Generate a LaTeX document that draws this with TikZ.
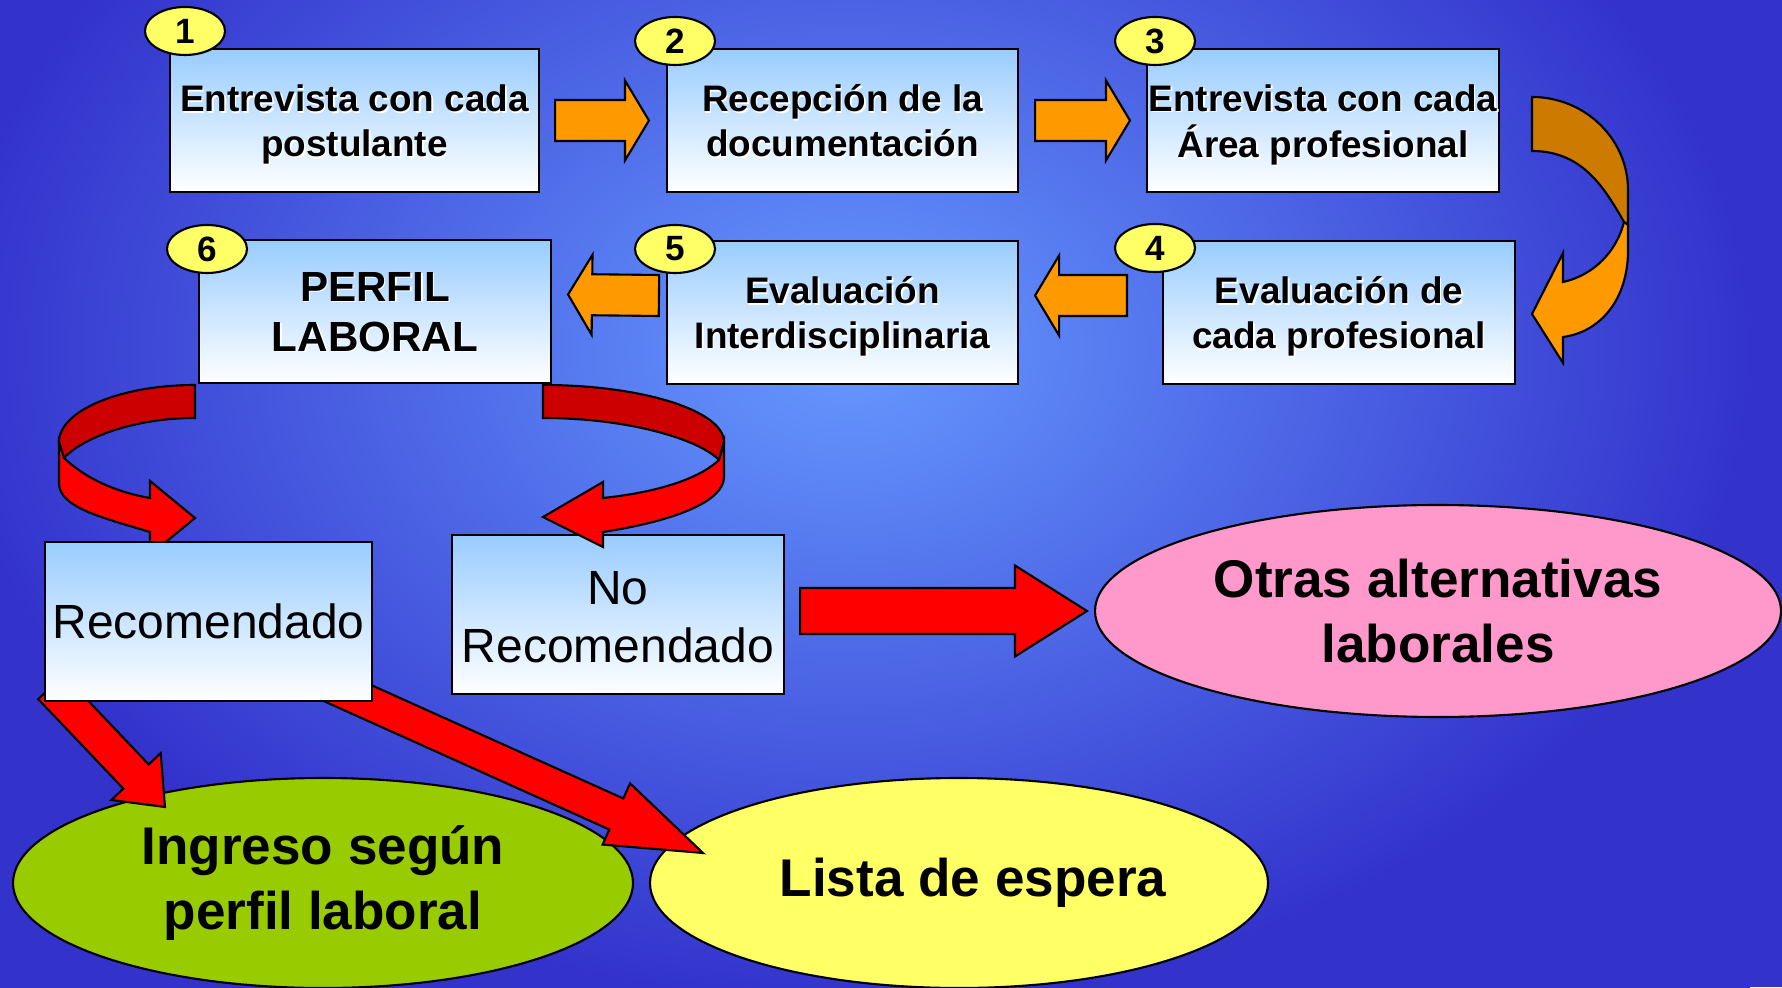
\documentclass[tikz,border=0pt]{standalone}
\usepackage{fontspec}
\setmainfont{Liberation Sans}
\usetikzlibrary{shapes.geometric,calc}

\definecolor{bglight}{HTML}{6699FF}
\definecolor{bgdark}{HTML}{3333CC}
\definecolor{boxblue}{HTML}{99CCFF}
\definecolor{arroworange}{HTML}{FF9900}
\definecolor{arrowbrown}{HTML}{CC7A00}
\definecolor{arrowred}{HTML}{FF0000}
\definecolor{arrowdarkred}{HTML}{CC0000}
\definecolor{badgeyellow}{HTML}{FFFF66}
\definecolor{otraspink}{HTML}{FF99CC}
\definecolor{ingresogreen}{HTML}{99CC00}

\pgfdeclarelayer{back}
\pgfdeclarelayer{mid}
\pgfsetlayers{back,mid,main}

% bold text with a thin white shadow, set a little low
\newcommand\embossed[1]{\raisebox{-1.6pt}[\height][\depth]{%
  \rlap{\kern0.45pt\raisebox{-0.45pt}{\color{white}\begin{tabular}{@{}c@{}}#1\end{tabular}}}%
  \begin{tabular}{@{}c@{}}#1\end{tabular}}}

% block arrow: half shaft, half head, head length
\tikzset{blockarrow/.style n args={3}{to path={
  let \p1=(\tikztostart), \p2=(\tikztotarget),
      \n1={atan2(\y2-\y1,\x2-\x1)}, \n2={veclen(\x2-\x1,\y2-\y1)} in
  ($(\tikztostart)+(\n1+90:#1)$) -- ++(\n1:\n2-#3) -- ++(\n1+90:#2-#1)
  -- (\tikztotarget)
  -- ($(\tikztotarget)+(\n1+180:#3)+(\n1-90:#2)$) -- ++(\n1+90:#2-#1)
  -- ++(\n1+180:\n2-#3) -- cycle}}}

\begin{document}
\begin{tikzpicture}[
  stage/.style={rectangle, draw, line width=0.6pt, top color=boxblue, bottom color=white,
    minimum width=3.52cm, minimum height=1.43cm, inner sep=0pt,
    font=\bfseries\fontsize{10.5}{12.8}\selectfont},
  verdict/.style={rectangle, draw, line width=0.6pt, top color=boxblue, bottom color=white,
    minimum height=1.59cm, inner sep=0pt, align=center,
    font=\fontsize{13.65}{16.4}\selectfont},
  outcome/.style={ellipse, draw, line width=0.6pt, inner sep=0pt, align=center,
    font=\bfseries\fontsize{15.1}{18.5}\selectfont},
  badge/.style={ellipse, draw, line width=0.6pt, fill=badgeyellow, inner sep=0pt,
    minimum width=0.80cm, minimum height=0.48cm, font=\bfseries\fontsize{10}{12}\selectfont},
  flow/.style={draw, line width=0.6pt, fill=arroworange, blockarrow={0.205cm}{0.40cm}{0.24cm}},
  push/.style={draw, line width=0.6pt, fill=arrowred},
  band/.style={draw, line width=0.6pt}]

\useasboundingbox (0,0) rectangle (17.82,9.87);

\begin{pgfonlayer}{back}
\fill[bgdark] (0,0) rectangle (17.82,9.87);
\begin{scope}
  \clip (0,0) rectangle (17.82,9.87);
  \shade[inner color=bglight, outer color=bgdark] (-0.5,-0.13) rectangle (17.5,12.87);
\end{scope}
\node[outcome, fill=otraspink, minimum width=6.86cm, minimum height=2.12cm]
      (otras) at (14.38,3.76) {Otras alternativas\\laborales};
\node[outcome, fill=ingresogreen, minimum width=6.20cm, minimum height=2.10cm]
      (ingreso) at (3.23,1.04) {Ingreso según\\perfil laboral};
\node[outcome, fill=badgeyellow, minimum width=6.18cm, minimum height=2.10cm]
      (lista) at (9.59,1.04) {\hspace*{0.28cm}Lista de espera};
\end{pgfonlayer}

% the six stages
\node[stage, minimum width=3.69cm] (b1) at (3.545,8.665) {\embossed{Entrevista con cada\\postulante}};
\node[stage, minimum width=3.51cm] (b2) at (8.425,8.665) {\embossed{Recepción de la\\documentación}};
\node[stage] (b3) at (13.23,8.665) {\embossed{Entrevista con cada\\Área profesional}};
\node[stage] (b4) at (13.39,6.745) {\embossed{Evaluación de\\cada profesional}};
\node[stage, minimum width=3.51cm] (b5) at (8.425,6.745) {\embossed{Evaluación\\Interdisciplinaria}};
\node[stage, font=\bfseries\fontsize{12}{14.2}\selectfont] (b6) at (3.75,6.755) {\embossed{PERFIL\\LABORAL}};

\node[verdict, minimum width=3.32cm] (norec) at (6.18,3.725)
      {\raisebox{-2.2pt}[\height][\depth]{\begin{tabular}{@{}c@{}}No\\Recomendado\end{tabular}}};

% turn from 3 to 4
\draw[band, fill=arrowbrown] (15.32,8.90) .. controls (15.85,8.90) and (16.28,8.48) .. (16.28,7.97)
      -- (16.28,7.62) -- (16.24,7.65) .. controls (16.04,8.00) and (15.82,8.36) .. (15.32,8.36) -- cycle;
\draw[band, fill=arroworange] (16.24,7.65) -- (16.28,7.62) -- (16.28,7.37)
      .. controls (16.28,6.87) and (16.00,6.55) .. (15.63,6.50) -- (15.63,6.24) -- (15.32,6.73)
      -- (15.63,7.34) -- (15.63,7.05) .. controls (15.95,7.12) and (16.17,7.37) .. (16.24,7.65) -- cycle;

% split of the profile
\draw[band, fill=arrowdarkred] (1.95,6.02) .. controls (1.20,6.02) and (0.59,5.76) .. (0.59,5.45)
      -- (0.64,5.29) .. controls (0.80,5.47) and (1.30,5.69) .. (1.95,5.69) -- cycle;
\draw[band, fill=arrowred] (0.59,5.45) -- (0.59,5.04) .. controls (0.59,4.80) and (1.00,4.70) .. (1.50,4.55)
      -- (1.50,4.32) -- (1.95,4.69) -- (1.50,5.06) -- (1.50,4.89)
      .. controls (1.15,4.95) and (0.85,5.09) .. (0.64,5.29) -- cycle;
\draw[band, fill=arrowdarkred] (5.43,6.02) .. controls (6.43,6.02) and (7.24,5.76) .. (7.24,5.45)
      -- (7.19,5.27) .. controls (7.00,5.47) and (6.30,5.69) .. (5.43,5.69) -- cycle;
\draw[band, fill=arrowred] (7.24,5.45) -- (7.24,5.10) .. controls (7.24,4.87) and (6.80,4.67) .. (6.03,4.55)
      -- (6.03,4.40) -- (5.43,4.70) -- (6.03,5.05) -- (6.03,4.89)
      .. controls (6.60,4.95) and (7.00,5.09) .. (7.19,5.27) -- cycle;

\node[verdict, minimum width=3.27cm] (rec) at (2.085,3.655) {Recomendado};

\node[badge] (n1) at (1.85,9.56) {1};
\node[badge] (n2) at (6.75,9.46) {2};
\node[badge] (n3) at (11.55,9.46) {3};
\node[badge] (n4) at (11.55,7.39) {4};
\node[badge] (n5) at (6.75,7.38) {5};
\node[badge] (n6) at (2.07,7.38) {6};

\begin{pgfonlayer}{mid}
\draw[flow] ([xshift=0.15cm]b1.east) to ([xshift=-0.17cm]b2.west);
\draw[flow] ([xshift=0.16cm]b2.east) to ([xshift=-0.16cm]b3.west);
\draw[flow] ([shift={(-0.35,0.17)}]b4.west) to ([shift={(0.16,0.17)}]b5.east);
\draw[flow] ([shift={(-0.07,0.17)}]b5.west) to ([shift={(0.16,0.17)}]b6.east);

\draw[push, blockarrow={0.23cm}{0.455cm}{0.72cm}]
      ([shift={(0.15,0.035)}]norec.east) to ([xshift=-0.07cm]otras.west);
\draw[push, blockarrow={0.175cm}{0.34cm}{0.42cm}]
      ([shift={(0.07,0.15)}]rec.south west) to ([shift={(-1.58,0.76)}]ingreso.center);
\draw[push, blockarrow={0.17cm}{0.335cm}{0.95cm}]
      ([shift={(-0.70,0.29)}]rec.south east) to ([shift={(-2.56,0.30)}]lista.center);
\end{pgfonlayer}

\end{tikzpicture}
\end{document}
